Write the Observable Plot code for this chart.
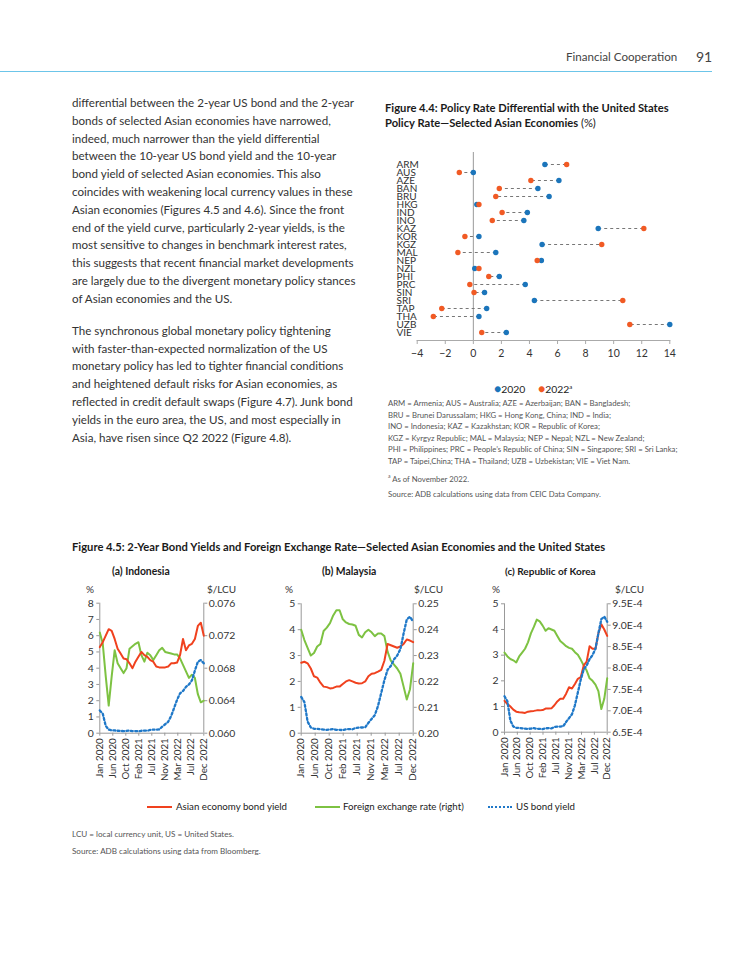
<!DOCTYPE html>
<html><head><meta charset="utf-8">
<script src="https://cdn.jsdelivr.net/npm/d3@7"></script>
<script src="https://cdn.jsdelivr.net/npm/@observablehq/plot@0.6"></script>
<style>
html,body{margin:0;padding:0;background:#fff}
body{width:750px;height:971px;position:relative;overflow:hidden;font-family:Lato,"Open Sans",sans-serif;color:#333}
.abs{position:absolute;white-space:nowrap}
.body-text{left:72px;font-size:11.6px;line-height:17.8px;color:#333}
.fig-title{font-weight:bold;color:#1a1a1a}
.note{font-size:7.75px;color:#555;line-height:11.5px}
.ptitle{font-weight:bold;font-size:10.4px;color:#1a1a1a}
.unit{font-size:10px;color:#333}
.leg{font-size:9.7px;color:#222}
</style></head><body>

<div class="abs" style="left:0;top:71px;width:712px;height:0;border-top:1.6px solid #6cc5e9"></div>
<div class="abs" style="left:566px;top:50px;font-size:11.6px;color:#444">Financial Cooperation</div>
<div class="abs" style="left:696px;top:48px;font-size:14px;color:#444">91</div>

<div class="abs body-text" style="top:94px">
<div>differential between the 2-year US bond and the 2-year</div>
<div>bonds of selected Asian economies have narrowed,</div>
<div>indeed, much narrower than the yield differential</div>
<div>between the 10-year US bond yield and the 10-year</div>
<div>bond yield of selected Asian economies. This also</div>
<div>coincides with weakening local currency values in these</div>
<div>Asian economies (Figures 4.5 and 4.6). Since the front</div>
<div>end of the yield curve, particularly 2-year yields, is the</div>
<div>most sensitive to changes in benchmark interest rates,</div>
<div>this suggests that recent financial market developments</div>
<div>are largely due to the divergent monetary policy stances</div>
<div>of Asian economies and the US.</div>
<div style="height:14.2px"></div>
<div>The synchronous global monetary policy tightening</div>
<div>with faster-than-expected normalization of the US</div>
<div>monetary policy has led to tighter financial conditions</div>
<div>and heightened default risks for Asian economies, as</div>
<div>reflected in credit default swaps (Figure 4.7). Junk bond</div>
<div>yields in the euro area, the US, and most especially in</div>
<div>Asia, have risen since Q2 2022 (Figure 4.8).</div>
</div>

<div class="abs fig-title" style="left:385px;top:100px;font-size:11.2px;line-height:15px">
<div>Figure 4.4: Policy Rate Differential with the United States</div>
<div>Policy Rate—Selected Asian Economies <span style="font-weight:normal">(%)</span></div>
</div>
<div id="fig44" class="abs" style="left:380px;top:140px"></div>
<div class="abs leg" style="left:494px;top:381px;font-size:10.4px"><span style="color:#1b75bb;font-size:12px">●</span>2020</div>
<div class="abs leg" style="left:538px;top:381px;font-size:10.4px"><span style="color:#f15a24;font-size:12px">●</span>2022<sup style="font-size:6px">a</sup></div>
<div class="abs note" style="left:388px;top:398px">
<div>ARM = Armenia; AUS = Australia; AZE = Azerbaijan; BAN = Bangladesh;</div>
<div>BRU = Brunei Darussalam; HKG = Hong Kong, China; IND = India;</div>
<div>INO = Indonesia; KAZ = Kazakhstan; KOR = Republic of Korea;</div>
<div>KGZ = Kyrgyz Republic; MAL = Malaysia; NEP = Nepal; NZL = New Zealand;</div>
<div>PHI = Philippines; PRC = People’s Republic of China; SIN = Singapore; SRI = Sri Lanka;</div>
<div>TAP = Taipei,China; THA = Thailand; UZB = Uzbekistan; VIE = Viet Nam.</div>
<div style="margin-top:3.5px"><sup style="font-size:5px">a</sup> As of November 2022.</div>
<div style="margin-top:4.5px">Source: ADB calculations using data from CEIC Data Company.</div>
</div>

<div class="abs fig-title" style="left:72px;top:540px;font-size:11.2px">Figure 4.5: 2-Year Bond Yields and Foreign Exchange Rate—Selected Asian Economies and the United States</div>
<div class="abs ptitle" style="left:112px;top:565px">(a) Indonesia</div>
<div class="abs ptitle" style="left:322px;top:565px">(b) Malaysia</div>
<div class="abs ptitle" style="left:505px;top:565px;font-size:10px">(c) Republic of Korea</div>
<div class="abs unit" style="left:86px;top:583px">%</div>
<div class="abs unit" style="left:207px;top:583px">$/LCU</div>
<div class="abs unit" style="left:285px;top:583px">%</div>
<div class="abs unit" style="left:414px;top:583px">$/LCU</div>
<div class="abs unit" style="left:492px;top:583px">%</div>
<div class="abs unit" style="left:615px;top:583px">$/LCU</div>
<div id="pa" class="abs" style="left:70px;top:590px"></div>
<div id="pb" class="abs" style="left:275px;top:590px"></div>
<div id="pc" class="abs" style="left:480px;top:590px"></div>

<div class="abs" style="left:147px;top:806px;width:25px;border-top:2px solid #f0411e"></div>
<div class="abs leg" style="left:176px;top:800px">Asian economy bond yield</div>
<div class="abs" style="left:315px;top:806px;width:25px;border-top:2px solid #7dc242"></div>
<div class="abs leg" style="left:343px;top:800px">Foreign exchange rate (right)</div>
<div class="abs" style="left:488px;top:806px;width:24px;border-top:2.2px dotted #1f78c8"></div>
<div class="abs leg" style="left:516px;top:800px">US bond yield</div>

<div class="abs note" style="left:72px;top:829px;font-size:8.1px">LCU = local currency unit, US = United States.</div>
<div class="abs note" style="left:72px;top:846px;font-size:8.1px">Source: ADB calculations using data from Bloomberg.</div>

<script>
// ---------- Figure 4.4 data ----------
const economies = ["ARM","AUS","AZE","BAN","BRU","HKG","IND","INO","KAZ","KOR","KGZ","MAL","NEP","NZL","PHI","PRC","SIN","SRI","TAP","THA","UZB","VIE"];
const diff2020 = [5.1, 0.0, 6.1, 4.6, 5.4, 0.25, 3.85, 3.6, 8.9, 0.4, 4.9, 1.6, 4.85, 0.1, 1.85, 3.7, 0.8, 4.35, 0.95, 0.4, 14.0, 2.35];
const diff2022 = [6.65, -1.0, 4.1, 1.85, 1.6, 0.4, 2.05, 1.35, 12.15, -0.6, 9.15, -1.1, 4.55, 0.4, 1.1, -0.25, 0.05, 10.65, -2.25, -2.85, 11.15, 0.6];
const xTicks44 = [-4,-2,0,2,4,6,8,10,12,14];

// ---------- Figure 4.5 data ----------
const months = ["2020-01","2020-02","2020-03","2020-04","2020-05","2020-06","2020-07","2020-08","2020-09","2020-10","2020-11","2020-12",
"2021-01","2021-02","2021-03","2021-04","2021-05","2021-06","2021-07","2021-08","2021-09","2021-10","2021-11","2021-12",
"2022-01","2022-02","2022-03","2022-04","2022-05","2022-06","2022-07","2022-08","2022-09","2022-10","2022-11","2022-12"];
const xTickLabels = ["Jan 2020","Jun 2020","Oct 2020","Feb 2021","Jul 2021","Nov 2021","Mar 2022","Jul 2022","Dec 2022"];
const usYield = [1.4,1.2,0.45,0.22,0.17,0.17,0.15,0.14,0.13,0.14,0.16,0.13,0.13,0.12,0.15,0.16,0.15,0.2,0.22,0.22,0.23,0.4,0.55,0.7,1.05,1.55,2.05,2.45,2.6,2.85,3.0,3.25,3.85,4.4,4.5,4.3];

const inoYield = [5.3,5.6,6.0,6.4,6.3,5.8,5.2,4.9,4.6,4.55,4.3,4.0,4.4,4.7,5.0,4.8,4.7,4.5,4.4,4.1,4.05,4.05,4.05,4.1,4.3,4.3,4.35,4.8,5.8,5.1,5.4,5.5,5.8,6.6,6.8,6.0];
const inoFx = [0.0724,0.0710,0.0670,0.0634,0.0670,0.0702,0.0686,0.0680,0.0674,0.0680,0.0704,0.0707,0.0710,0.0712,0.0696,0.0688,0.0699,0.0696,0.0690,0.0696,0.0702,0.0705,0.0700,0.0699,0.0698,0.0697,0.0697,0.0692,0.0684,0.0676,0.0668,0.0672,0.0668,0.0648,0.0638,0.0640];
const malYield = [2.72,2.76,2.7,2.5,2.2,2.15,1.95,1.8,1.78,1.73,1.75,1.8,1.8,1.9,2.0,2.05,2.0,1.95,1.92,1.93,2.0,2.2,2.3,2.32,2.38,2.45,2.8,3.45,3.4,3.35,3.3,3.35,3.45,3.62,3.58,3.52];
const malFx = [0.240,0.236,0.233,0.230,0.231,0.2335,0.2345,0.2395,0.2408,0.2425,0.2455,0.2475,0.2475,0.2440,0.2428,0.2422,0.2420,0.2415,0.2380,0.2370,0.2390,0.2400,0.2390,0.2375,0.2385,0.2385,0.2375,0.2315,0.2280,0.2265,0.2250,0.2230,0.2180,0.2130,0.2170,0.2270];
const korYield = [1.22,1.1,1.0,0.88,0.8,0.78,0.77,0.75,0.8,0.82,0.83,0.85,0.85,0.86,0.92,0.92,0.93,1.05,1.2,1.3,1.3,1.5,1.75,1.7,1.88,2.08,2.15,2.6,2.75,3.35,3.25,3.25,3.85,4.2,4.0,3.75];
const korFx = [0.000836,0.000827,0.000821,0.000818,0.000813,0.000827,0.000836,0.000845,0.000860,0.000881,0.000896,0.000913,0.000909,0.000899,0.000887,0.000893,0.000890,0.000887,0.000875,0.000863,0.000857,0.000851,0.000847,0.000845,0.000837,0.000831,0.000819,0.000806,0.000794,0.000776,0.000770,0.000761,0.000746,0.000704,0.000728,0.000776];

const inoLeftTicks = [0,1,2,3,4,5,6,7,8];
const inoFxTicks = [0.060,0.064,0.068,0.072,0.076];
const inoFxLabels = ["0.060","0.064","0.068","0.072","0.076"];
const malLeftTicks = [0,1,2,3,4,5];
const malFxTicks = [0.20,0.21,0.22,0.23,0.24,0.25];
const malFxLabels = ["0.20","0.21","0.22","0.23","0.24","0.25"];
const korLeftTicks = [0,1,2,3,4,5];
const korFxTicks = [0.00065,0.00070,0.00075,0.00080,0.00085,0.00090,0.00095];
const korFxLabels = ["6.5E-4","7.0E-4","7.5E-4","8.0E-4","8.5E-4","9.0E-4","9.5E-4"];

const RED = "#f0411e", GREEN = "#7dc242", BLUE = "#1f78c8";
const FONT = "Lato, 'Open Sans', sans-serif";

// ---------- Figure 4.4 ----------
const rows44 = economies.map((c, i) => ({c, a: diff2020[i], b: diff2022[i]}));
const fig44 = Plot.plot({
  width: 310, height: 230,
  marginLeft: 36.7, marginRight: 20.7, marginTop: 12, marginBottom: 30,
  style: {fontFamily: FONT, fontSize: "10px", color: "#333", background: "transparent", overflow: "visible"},
  x: {domain: [-4, 14]},
  y: {type: "point", domain: economies, range: [21, 195.7], padding: 0},
  marks: [
    Plot.ruleX([0], {stroke: "#999", strokeWidth: 1}),
    Plot.frame({anchor: "bottom", stroke: "#aaa"}),
    Plot.axisX(xTicks44, {tickSize: 4, tickPadding: 5, stroke: "#aaa", fill: "#333", fontSize: 10.5, label: null}),
    Plot.axisY({tickSize: 0, tickPadding: 0, textAnchor: "start", dx: -20.7, fontSize: 10, fill: "#333", label: null}),
    Plot.link(rows44, {x1: "a", x2: "b", y1: "c", y2: "c", stroke: "#777", strokeWidth: 1, strokeDasharray: "3,3"}),
    Plot.dot(rows44, {x: "a", y: "c", r: 2.7, fill: "#1b75bb"}),
    Plot.dot(rows44, {x: "b", y: "c", r: 2.7, fill: "#f15a24"})
  ]
});
document.getElementById("fig44").append(fig44);

// ---------- Figure 4.5 panels ----------
function panel({bond, fx, leftTicks, fxTicks, fxLabels, width, height, ml, mr, mt, mb}) {
  const yMax = leftTicks[leftTicks.length - 1];
  const f0 = fxTicks[0], f1 = fxTicks[fxTicks.length - 1];
  const toLeft = f => (f - f0) / (f1 - f0) * yMax;
  const n = months.length - 1;
  const step = n / (xTickLabels.length - 1);
  const data = months.map((m, i) => ({i, bond: bond[i], fx: toLeft(fx[i]), us: usYield[i]}));
  const fxPos = fxTicks.map(toLeft);
  return Plot.plot({
    width, height, marginLeft: ml, marginRight: mr, marginTop: mt, marginBottom: mb,
    style: {fontFamily: FONT, fontSize: "10px", color: "#333", background: "transparent", overflow: "visible"},
    x: {domain: [0, n]},
    y: {domain: [0, yMax]},
    marks: [
      Plot.ruleY([0], {stroke: "#999"}),
      Plot.ruleX([0, n], {stroke: "#999"}),
      Plot.axisY(leftTicks, {anchor: "left", tickSize: 3, tickPadding: 3, stroke: "#999", fill: "#333", fontSize: 10.4, label: null}),
      Plot.axisY(fxPos, {anchor: "right", tickSize: 3, tickPadding: 2, stroke: "#999", fill: "#333", fontSize: 10.4, label: null,
        tickFormat: d => fxLabels[Math.round(d / yMax * (fxTicks.length - 1))]}),
      Plot.axisX(xTickLabels.map((_, k) => k * step), {anchor: "bottom", tickSize: 3, tickPadding: 2, tickRotate: -90, stroke: "#999", fill: "#333", fontSize: 9.8, label: null,
        tickFormat: d => xTickLabels[Math.round(d / step)]}),
      Plot.line(data, {x: "i", y: "fx", stroke: GREEN, strokeWidth: 2}),
      Plot.line(data, {x: "i", y: "bond", stroke: RED, strokeWidth: 2}),
      Plot.line(data, {x: "i", y: "us", stroke: BLUE, strokeWidth: 2.3, strokeDasharray: "2,2.4"})
    ]
  });
}
document.getElementById("pa").append(panel({bond: inoYield, fx: inoFx, leftTicks: inoLeftTicks, fxTicks: inoFxTicks, fxLabels: inoFxLabels,
  width: 180, height: 200, ml: 29.3, mr: 46.7, mt: 12.7, mb: 57.3}));
document.getElementById("pb").append(panel({bond: malYield, fx: malFx, leftTicks: malLeftTicks, fxTicks: malFxTicks, fxLabels: malFxLabels,
  width: 185, height: 200, ml: 25.7, mr: 47.3, mt: 13.3, mb: 57.3}));
document.getElementById("pc").append(panel({bond: korYield, fx: korFx, leftTicks: korLeftTicks, fxTicks: korFxTicks, fxLabels: korFxLabels,
  width: 190, height: 200, ml: 24, mr: 63.3, mt: 13.3, mb: 58.3}));
</script>
</body></html>
